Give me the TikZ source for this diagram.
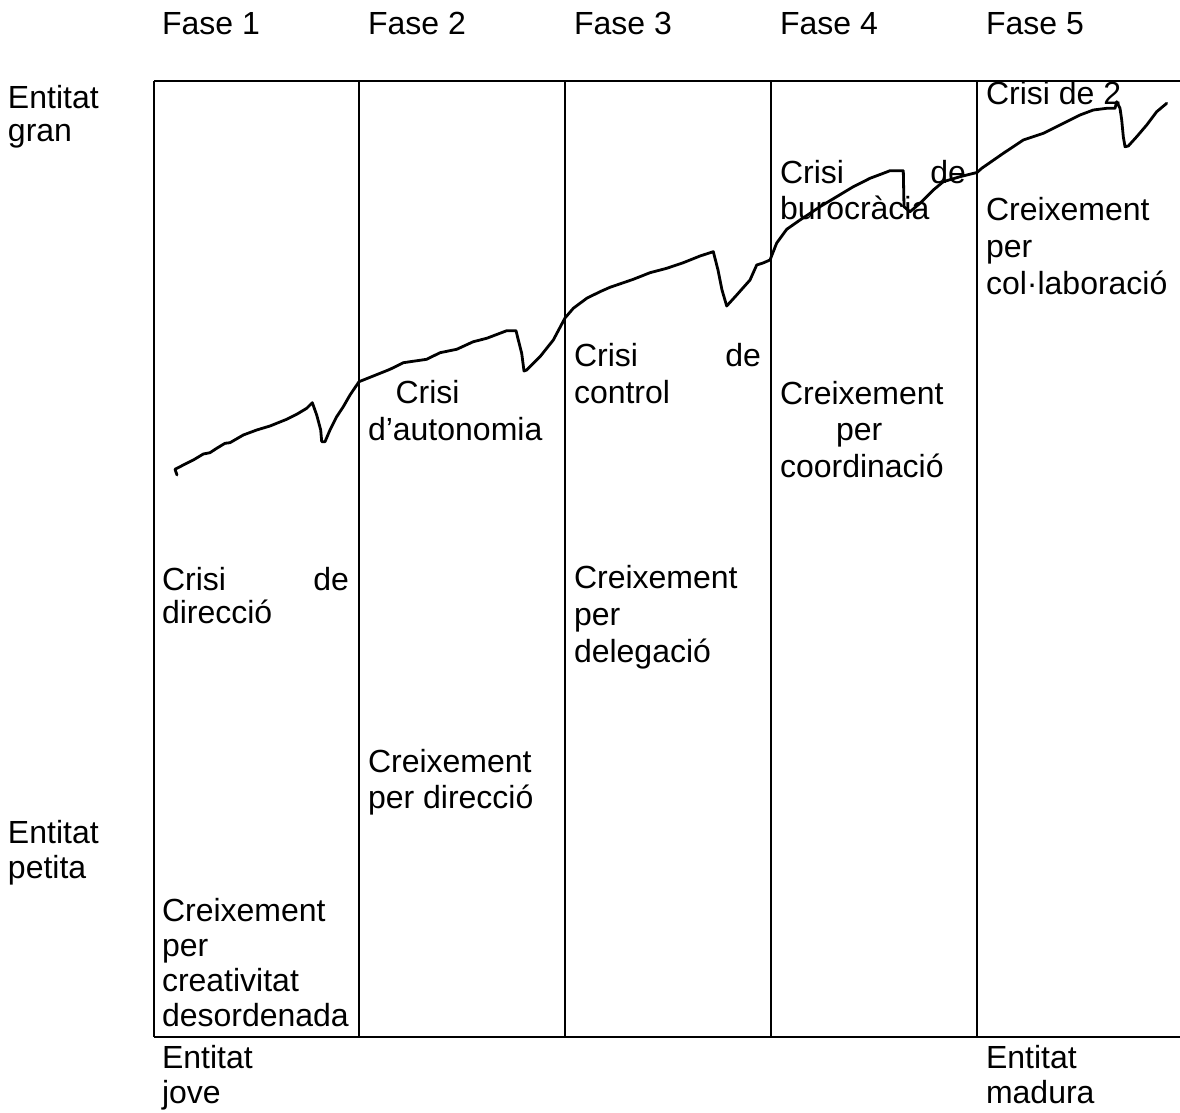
\documentclass[tikz,border=0pt]{standalone}
\usepackage{fontspec}
\setmainfont{Liberation Sans}
\begin{document}
\begin{tikzpicture}[x=1pt,y=-1pt,
  txt/.style={anchor=base west, inner sep=0pt, outer sep=0pt, font=\fontsize{32}{36}\selectfont},
  frame/.style={line width=2pt},
  growth/.style={line width=2.8pt, line join=round, line cap=round}]
\useasboundingbox (0,0) rectangle (1180,1113);
\fill[white] (0,0) rectangle (1180,1113);
% frame
\coordinate (tl) at (154,81);
\coordinate (tr) at (1181,81);
\coordinate (bl) at (154,1037);
\coordinate (br) at (1181,1037);
\draw[frame] (tl) -- (tr);
\draw[frame] (bl) -- (br);
\foreach \x/\n in {154/a,359/b,565/c,771/d,977/e}{
  \coordinate (top\n) at (\x,81);
  \coordinate (bot\n) at (\x,1037);
  \draw[frame] (top\n) -- (bot\n);
}
% headers
\node[txt] (f1) at (162,35) {Fase 1};
\node[txt] (f2) at (368,35) {Fase 2};
\node[txt] (f3) at (574,35) {Fase 3};
\node[txt] (f4) at (780,35) {Fase 4};
\node[txt] (f5) at (986,35) {Fase 5};
% left labels
\node[txt] (eg1) at (8,109) {Entitat};
\node[txt] (eg2) at (8,142) {gran};
\node[txt] (ep1) at (8,843) {Entitat};
\node[txt] (ep2) at (8,878) {petita};
% bottom labels
\node[txt] (ej1) at (162,1068) {Entitat};
\node[txt] (ej2) at (162,1103) {jove};
\node[txt] (em1) at (986,1068) {Entitat};
\node[txt] (em2) at (986,1103) {madura};
% phase 1
\node[txt] (c1a) at (162,590) {\makebox[187pt][s]{Crisi de}};
\node[txt] (c1b) at (162,623) {direcció};
\node[txt] (g1a) at (162,921) {Creixement};
\node[txt] (g1b) at (162,956) {per};
\node[txt] (g1c) at (162,991) {creativitat};
\node[txt] (g1d) at (162,1026) {desordenada};
% phase 2
\node[txt] (c2a) at (395.5,403) {Crisi};
\node[txt] (c2b) at (368,440) {d’autonomia};
\node[txt] (g2a) at (368,772) {Creixement};
\node[txt] (g2b) at (368,808) {per direcció};
% phase 3
\node[txt] (c3a) at (574,366) {\makebox[187pt][s]{Crisi de}};
\node[txt] (c3b) at (574,403) {control};
\node[txt] (g3a) at (574,588) {Creixement};
\node[txt] (g3b) at (574,625) {per};
\node[txt] (g3c) at (574,662) {delegació};
% phase 4
\node[txt] (c4a) at (780,183) {\makebox[186pt][s]{Crisi de}};
\node[txt] (c4b) at (780,219) {burocràcia};
\node[txt] (g4a) at (780,404) {Creixement};
\node[txt] (g4b) at (836,440) {per};
\node[txt] (g4c) at (780,477) {coordinació};
% phase 5
\node[txt] (c5a) at (986,105) {Crisi de 2};
\node[txt] (g5a) at (986,220) {Creixement};
\node[txt] (g5b) at (986,257) {per};
\node[txt] (g5c) at (986,294) {col·laboració};
% growth curve
\draw[growth] plot coordinates {
 (177,475) (175,469.3) (183.3,465) (193.3,460) (203.3,454) (210,452.7) (216.7,448.3)
 (225,443.3) (230,442.7) (243.3,435) (256.7,430) (270,426) (276.7,423.3) (286.7,419.3)
 (296.7,414.3) (306.7,408.3) (312.3,402.7) (316.7,415) (320.7,430) (321.7,441.7)
 (325,441.7) (330,430) (336.7,416.7) (343.3,406.7) (350,395) (359,381.7)
 (373.3,376) (390,369.3) (403.3,362.7) (426.7,359.3) (440,352.7) (456.7,349.3)
 (473.3,341.7) (486.7,338.3) (506.7,330.7) (516,330.7) (518.3,340) (521.7,353.3)
 (524,371) (526.7,370) (540,356.7) (553.3,340) (565,318) (573.3,308.3)
 (586.7,298.3) (600,291.7) (610,287.3) (633.3,279.3) (650,272.7) (666.7,268.3)
 (683.3,262.7) (700,256) (713.3,251.7) (718,270) (722,290) (726.7,306) (736.7,295)
 (750,280) (756.7,265) (763,263) (770,260) (776.7,243) (786.7,229.3) (800,220)
 (820,206.7) (836.7,196.7) (853.3,186.7) (870,178.3) (883.3,173.3) (890,170.7)
 (903.3,170.7) (904,206.7) (910,211.7) (920,203.3) (933.3,190) (943.3,181.7)
 (960,176.7) (977,172.5) (981.7,168.3) (1003.3,153.3) (1023.3,140) (1043.3,133.3)
 (1063.3,123.3) (1080,115) (1093.3,110) (1106.7,108.3) (1115,108.3) (1116.7,101.7)
 (1120,108.3) (1121.7,120) (1123.3,136.7) (1125,146.7) (1128.3,146) (1136.7,136.7)
 (1146.7,125) (1156.7,111.7) (1166.7,103.3)
};
\end{tikzpicture}
\end{document}
